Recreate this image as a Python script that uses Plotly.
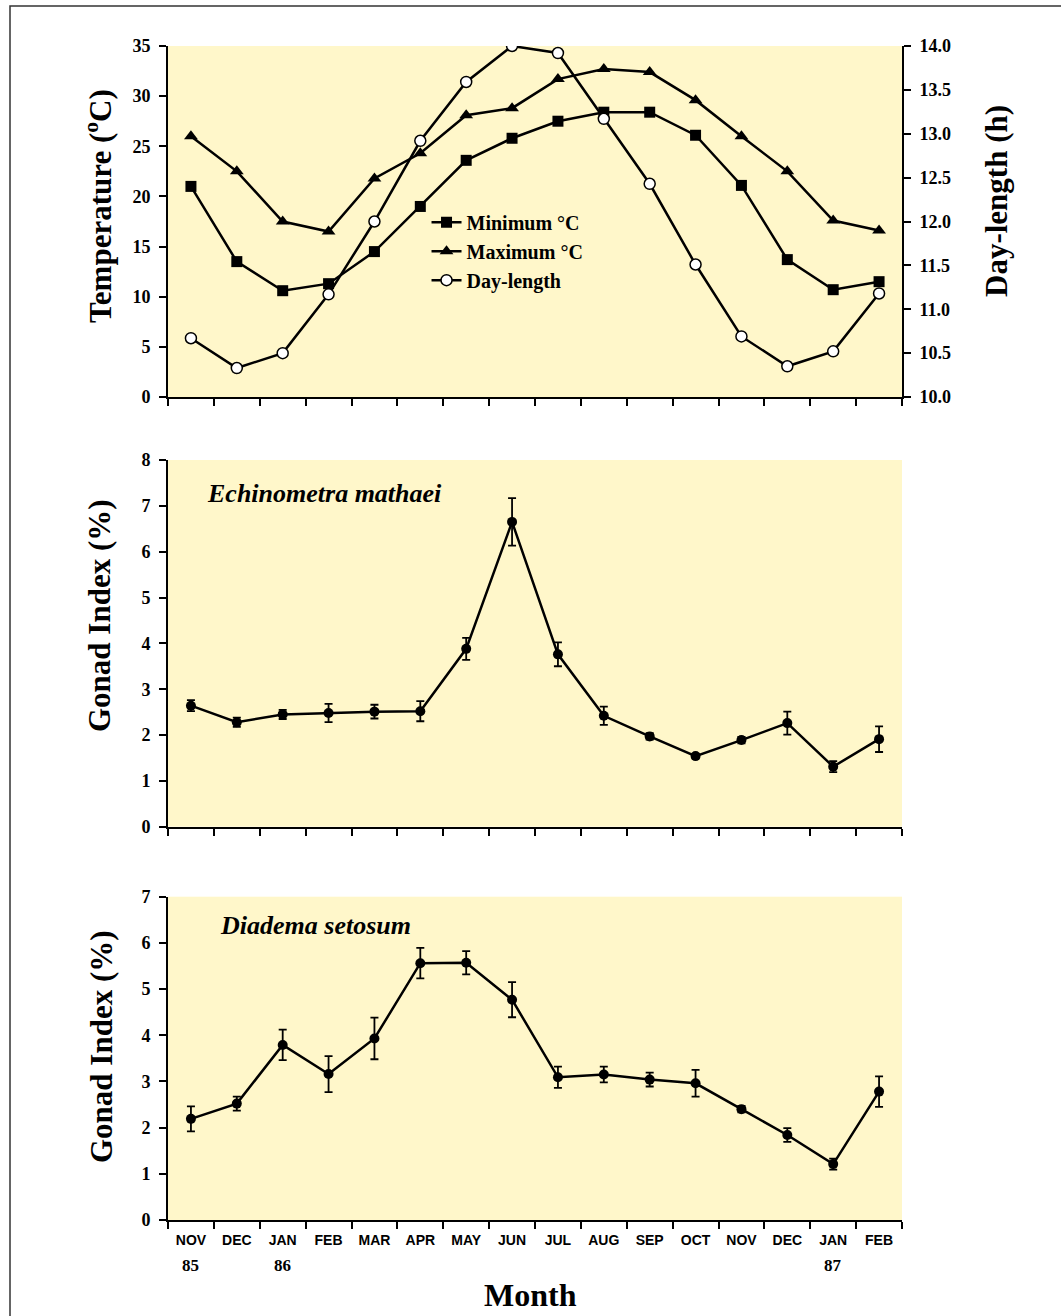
import plotly.graph_objects as go

# ---------------- data ----------------
months = ["NOV", "DEC", "JAN", "FEB", "MAR", "APR", "MAY", "JUN",
          "JUL", "AUG", "SEP", "OCT", "NOV", "DEC", "JAN", "FEB"]
years = ["85", "", "86", "", "", "", "", "", "", "", "", "", "", "", "87", ""]

min_temp = [21.0, 13.5, 10.6, 11.3, 14.5, 19.0, 23.6, 25.8,
            27.5, 28.4, 28.4, 26.1, 21.1, 13.7, 10.7, 11.5]
max_temp = [26.0, 22.5, 17.5, 16.5, 21.8, 24.3, 28.1, 28.8,
            31.7, 32.7, 32.4, 29.6, 26.0, 22.5, 17.6, 16.6]
day_length = [10.67, 10.33, 10.50, 11.17, 12.00, 12.92, 13.59, 14.00,
              13.92, 13.17, 12.43, 11.51, 10.69, 10.35, 10.52, 11.18]

echino = [2.64, 2.28, 2.45, 2.48, 2.51, 2.52, 3.88, 6.65,
          3.76, 2.42, 1.97, 1.54, 1.89, 2.26, 1.31, 1.91]
echino_err = [0.12, 0.10, 0.10, 0.20, 0.15, 0.22, 0.24, 0.52,
              0.26, 0.20, 0.07, 0.05, 0.07, 0.25, 0.12, 0.28]

diadema = [2.19, 2.52, 3.79, 3.16, 3.93, 5.56, 5.57, 4.77,
           3.09, 3.15, 3.04, 2.96, 2.40, 1.84, 1.21, 2.78]
diadema_err = [0.27, 0.15, 0.33, 0.39, 0.45, 0.33, 0.25, 0.38,
               0.23, 0.17, 0.15, 0.29, 0.07, 0.15, 0.12, 0.33]

x_idx = list(range(len(months)))

# ---------------- style ----------------
W, H = 1061, 1316
SERIF = "Liberation Serif, Times New Roman, serif"
SANS = "Liberation Sans, Arial, sans-serif"
BG = "rgb(255,247,202)"
LW = 2.5

x_dom = [168 / W, 902 / W]
top_dom = [1 - 397 / H, 1 - 46 / H]
mid_dom = [1 - 826.7 / H, 1 - 460 / H]
bot_dom = [1 - 1220 / H, 1 - 896.7 / H]
x_range = [-0.5, len(months) - 0.5]

tickfont = dict(family=SERIF, size=18, color="black", weight="bold")

fig = go.Figure()

line = dict(color="black", width=LW)
fig.add_trace(go.Scatter(x=x_idx, y=min_temp, name="Minimum °C", mode="lines+markers",
                         line=line, marker=dict(symbol="square", size=11, color="black"),
                         xaxis="x", yaxis="y"))
fig.add_trace(go.Scatter(x=x_idx, y=max_temp, name="Maximum °C", mode="lines+markers",
                         line=line, marker=dict(symbol="triangle-up", size=12, color="black"),
                         xaxis="x", yaxis="y"))
fig.add_trace(go.Scatter(x=x_idx, y=day_length, name="Day-length", mode="lines+markers",
                         line=line, marker=dict(symbol="circle", size=11, color="white",
                                                line=dict(color="black", width=1.5)),
                         xaxis="x", yaxis="y2"))

err_style = dict(type="data", thickness=1.8, width=4, color="black")
fig.add_trace(go.Scatter(x=x_idx, y=echino, mode="lines+markers", showlegend=False,
                         name="Echinometra mathaei", line=line,
                         marker=dict(symbol="circle", size=10, color="black"),
                         error_y=dict(array=echino_err, **err_style),
                         xaxis="x2", yaxis="y3"))
fig.add_trace(go.Scatter(x=x_idx, y=diadema, mode="lines+markers", showlegend=False,
                         name="Diadema setosum", line=line,
                         marker=dict(symbol="circle", size=10, color="black"),
                         error_y=dict(array=diadema_err, **err_style),
                         xaxis="x3", yaxis="y4"))

axline = dict(showline=True, linecolor="black", linewidth=2, showgrid=False,
              zeroline=False, fixedrange=True, automargin=False)
boundary_ticks = dict(tickmode="linear", tick0=-0.5, dtick=1)

def x_base(anchor, labels=False):
    d = dict(domain=x_dom, range=x_range, anchor=anchor, **axline)
    if labels:
        d.update(tickmode="array", tickvals=x_idx, ticktext=months, ticks="",
                 tickfont=dict(family=SANS, size=14, color="black", weight="bold"),
                 ticklabelstandoff=6,
                 minor=dict(tickmode="linear", tick0=-0.5, dtick=1, ticks="outside",
                            ticklen=7, tickwidth=2, tickcolor="black", showgrid=False))
    else:
        d.update(showticklabels=False, ticks="outside", ticklen=7, tickwidth=2,
                 tickcolor="black", **boundary_ticks)
    return d

def x_overlay(base, anchor):
    return dict(overlaying=base, anchor=anchor, range=x_range, side="bottom",
                showline=False, showgrid=False, zeroline=False, showticklabels=False,
                ticks="inside", ticklen=7, tickwidth=2, tickcolor="black",
                fixedrange=True, automargin=False, **boundary_ticks)

def y_base(domain, anchor, rng, dtick, side="left", fmt=None, overlaying=None):
    d = dict(domain=domain, anchor=anchor, range=rng, tickmode="linear", tick0=rng[0],
             dtick=dtick, ticks="outside", ticklen=7, tickwidth=2, tickcolor="black",
             tickfont=tickfont, ticklabelstandoff=5, side=side, **axline)
    if fmt:
        d["tickformat"] = fmt
    if overlaying:
        d.pop("domain")
        d["overlaying"] = overlaying
    return d

def y_overlay(base, anchor, rng, dtick, side="left"):
    return dict(overlaying=base, anchor=anchor, range=rng, side=side,
                tickmode="linear", tick0=rng[0], dtick=dtick,
                showline=False, showgrid=False, zeroline=False, showticklabels=False,
                ticks="inside", ticklen=5, tickwidth=2, tickcolor="black",
                fixedrange=True, automargin=False)

fig.update_layout(
    width=W, height=H,
    margin=dict(l=0, r=0, t=0, b=0, autoexpand=False),
    paper_bgcolor="white",
    plot_bgcolor=BG,
    font=dict(family=SERIF, color="black"),
    showlegend=True,
    legend=dict(x=0.402, y=0.846, xanchor="left", yanchor="top",
                bgcolor="rgba(0,0,0,0)", borderwidth=0,
                font=dict(family=SERIF, size=20, color="black", weight="bold"),
                itemwidth=30, tracegroupgap=0),
    xaxis=x_base("y"),
    xaxis2=x_base("y3"),
    xaxis3=x_base("y4", labels=True),
    xaxis4=x_overlay("x", "y"),
    xaxis5=x_overlay("x2", "y3"),
    xaxis6=x_overlay("x3", "y4"),
    yaxis=y_base(top_dom, "x", [0, 35], 5),
    yaxis2=y_base(None, "x", [10, 14], 0.5, side="right", fmt=".1f", overlaying="y"),
    yaxis3=y_base(mid_dom, "x2", [0, 8], 1),
    yaxis4=y_base(bot_dom, "x3", [0, 7], 1),
    yaxis5=y_overlay("y", "x", [0, 35], 5),
    yaxis6=y_overlay("y3", "x2", [0, 8], 1),
    yaxis7=y_overlay("y4", "x3", [0, 7], 1),
    yaxis8=y_overlay("y", "x", [10, 14], 0.5, side="right"),
)

def text_ann(text, x, y, size, angle=0, xanchor="center", xref="paper"):
    fig.add_annotation(text=text, xref=xref, yref="paper", x=x, y=y,
                       xanchor=xanchor, yanchor="middle", textangle=angle,
                       showarrow=False,
                       font=dict(family=SERIF, size=size, color="black", weight="bold"))

# axis titles (placed as in the original, slightly above panel centres)
text_ann("Temperature (<sup>o</sup>C)", 99 / W, 1 - 206 / H, 31, angle=-90)
text_ann("Day-length (h)", 997 / W, 1 - 201 / H, 31, angle=-90)
text_ann("Gonad Index (%)", 99 / W, 1 - 616 / H, 31, angle=-90)
text_ann("Gonad Index (%)", 101 / W, 1 - 1047 / H, 31, angle=-90)
text_ann("Month", 530 / W, 1 - 1295 / H, 32)

# species labels
text_ann("<i>Echinometra mathaei</i>", 205 / W, 1 - 493 / H, 26, xanchor="left")
text_ann("<i>Diadema setosum</i>", 218 / W, 1 - 925 / H, 26, xanchor="left")

# year labels under the month ticks
for i, yr in enumerate(years):
    if yr:
        text_ann(yr, x_idx[i], 1 - 1265 / H, 17, xref="x3")

# frame around the figure
fig.add_shape(type="rect", xref="paper", yref="paper", x0=10 / W, y0=-0.05, x1=1.05,
              y1=1 - 6 / H, line=dict(color="#333333", width=1.5), layer="above")

fig.write_html("out.html",
               config={"displayModeBar": False},
               post_script="document.body.style.margin='0';"
                           "document.body.style.overflow='hidden';")
